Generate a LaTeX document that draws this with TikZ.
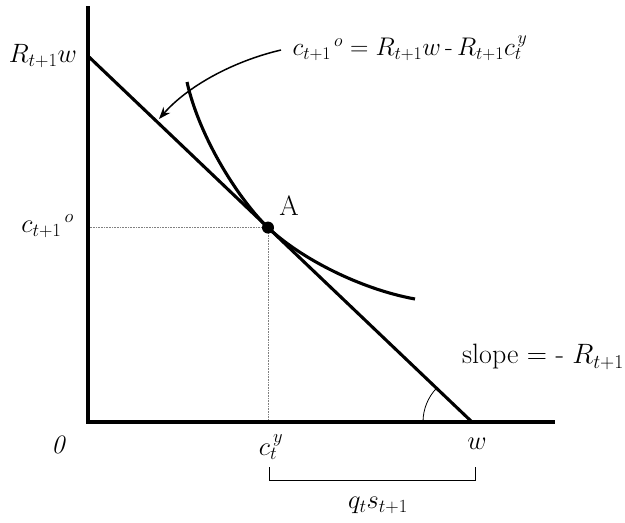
\RequirePackage{fix-cm}
\documentclass[tikz,border=0pt]{standalone}
\usepackage{fontspec}
\usetikzlibrary{arrows.meta,calc}
\tikzset{
  axisline/.style={line width=3.3pt, line cap=rect},
  thickline/.style={line width=3.1pt},
  guideline/.style={line width=0.6pt, gray, densely dotted},
  thinline/.style={line width=1pt},
  lbl/.style={font=\fontsize{26.5}{31}\selectfont, inner sep=0pt},
  eqlbl/.style={font=\fontsize{25.5}{30}\selectfont, inner sep=0pt},
  slbl/.style={font=\fontsize{28}{33}\selectfont, inner sep=0pt}
}
\begin{document}
\begin{tikzpicture}[x=1pt,y=-1pt]
\useasboundingbox (0,0) rectangle (625,523);
% coordinates
\coordinate (ytop) at (88,8);
\coordinate (O) at (88,422);
\coordinate (xend) at (553,422);
\coordinate (Rw) at (88,56);
\coordinate (W) at (472,422);
\coordinate (A) at ($(Rw)!0.46875!(W)$);
\coordinate (Ax) at (A |- O);
\coordinate (Ay) at (A -| O);
\coordinate (icstart) at (187,82);
\coordinate (icend) at (415,299);
\coordinate (arrstart) at (281,50);
\coordinate (arrtip) at (159,119);
\coordinate (bl) at (269,467);
\coordinate (blb) at (269,480);
\coordinate (brb) at (475,480);
\coordinate (br) at (475,467);
% dotted guides
\draw[guideline] (Ay) -- (A) -- (Ax);
% axes
\draw[axisline] (ytop) -- (O) -- (xend);
% budget line
\draw[thickline] (Rw) -- (W);
% indifference curve
\draw[thickline] (icstart) .. controls (200,140) and (241,202) .. (A)
  .. controls (300,258) and (360,289) .. (icend);
% point A
\fill (A) circle[radius=6pt];
% arrow
\draw[line width=1.5pt, -{Stealth[length=12pt,width=9pt]}] (arrstart) .. controls (230,62) and (186,88) .. (arrtip);
% angle arc
\draw[line width=0.8pt] ([shift={(180:49pt)}]W) arc[start angle=180, end angle=136.4, radius=49pt];
% bracket
\draw[thinline] (bl) -- (blb) -- (brb) -- (br);
% labels
\node[eqlbl] (eq) at (410,48) {$c_{t+1}{}^{\,o} = R_{t+1}w \,\textrm{-}\, R_{t+1}c_t^{\,y}$};
\node[lbl, anchor=east] (lRw) at (77,56) {$R_{t+1}w$};
\node[lbl, anchor=east] (lco) at (74,226) {$c_{t+1}{}^{\,o}$};
\node[slbl] (lA) at (289,206) {A};
\node[lbl] (l0) at (58,445) {$\mathit{0}$};
\node[lbl] (lcy) at (271,447) {$c_t^{\,y}$};
\node[lbl] (lw) at (477,444) {$w$};
\node[lbl] (lqs) at (378,505) {$q_t s_{t+1}$};
\node[slbl] (lslope) at (543,357) {slope = - $R_{t+1}$};
\end{tikzpicture}
\end{document}
